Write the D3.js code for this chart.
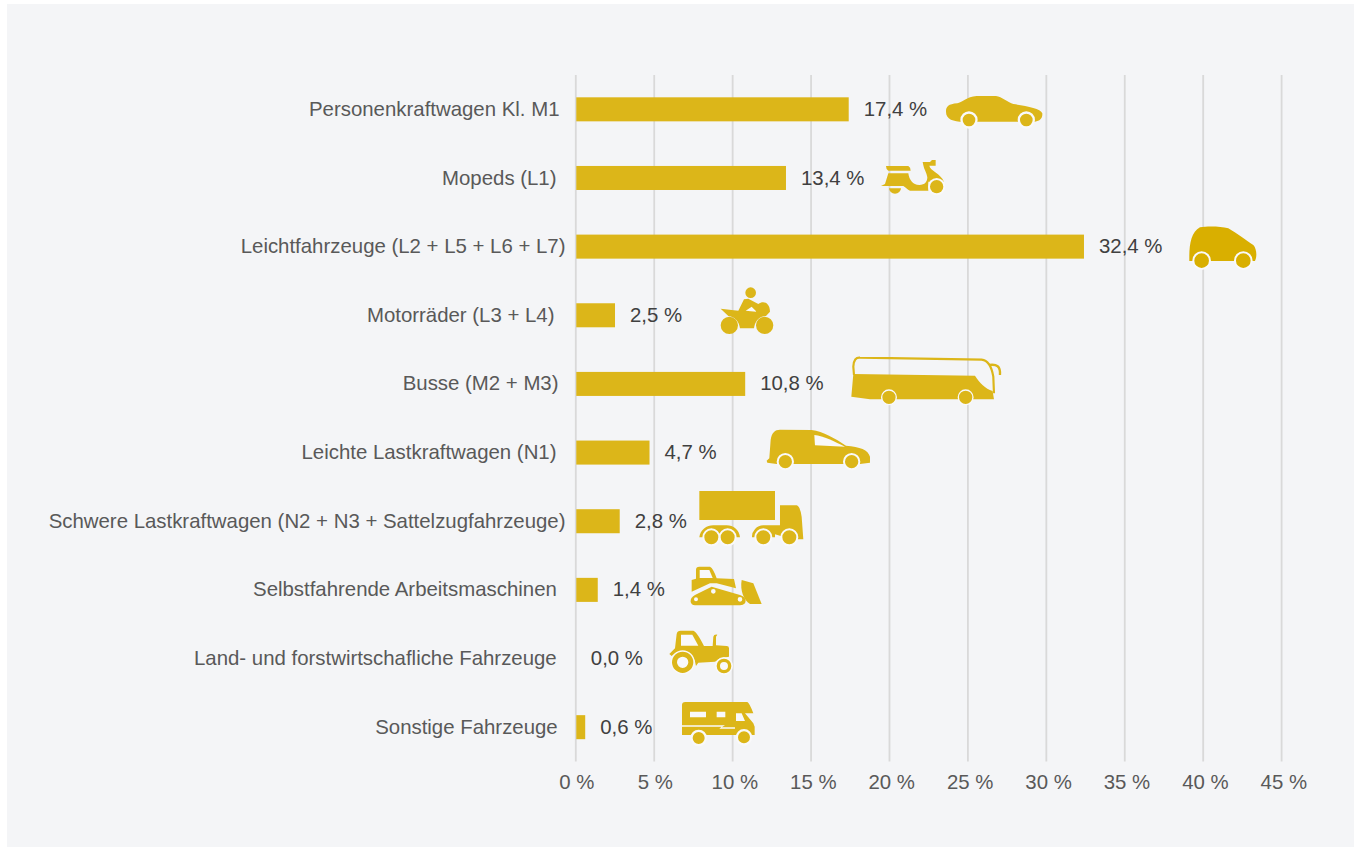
<!DOCTYPE html>
<html>
<head>
<meta charset="utf-8">
<script src="https://cdn.jsdelivr.net/npm/d3@7"></script>
<style>
  html, body { margin: 0; padding: 0; background: #fff; }
  svg { display: block; font-family: "Liberation Sans", Arial, sans-serif; }
</style>
</head>
<body>
<div id="chart"></div>
<script>
const categories = [
  "Personenkraftwagen Kl. M1",
  "Mopeds (L1)",
  "Leichtfahrzeuge (L2 + L5 + L6 + L7)",
  "Motorräder (L3 + L4)",
  "Busse (M2 + M3)",
  "Leichte Lastkraftwagen (N1)",
  "Schwere Lastkraftwagen (N2 + N3 + Sattelzugfahrzeuge)",
  "Selbstfahrende Arbeitsmaschinen",
  "Land- und forstwirtschafliche Fahrzeuge",
  "Sonstige Fahrzeuge"
];
const shares = [17.4, 13.4, 32.4, 2.5, 10.8, 4.7, 2.8, 1.4, 0.0, 0.6];
const xTicks = [0, 5, 10, 15, 20, 25, 30, 35, 40, 45];

const gold = "#dcb619", darkGold = "#d9af00", cut = "#f9f9fa", bg = "#f4f5f7";
const fontSize = 20.4;

// the labels in the original do not share one right edge
const labelInsets = [6, 9, 0, 11, 7, 9, 0, 8.7, 8.8, 7.8];

// set the dimensions of the graph
const margin = { top: 75, left: 575.8, right: 75.4, bottom: 85.5 },
    totalW = 1357, totalH = 847;

const svg = d3.select("#chart").append("svg")
    .attr("width", totalW).attr("height", totalH);

svg.append("rect").attr("x", 7).attr("y", 4)
    .attr("width", 1347).attr("height", 843).attr("fill", bg);

const x = d3.scaleLinear().domain([0, 45]).range([margin.left, totalW - margin.right]);
const y = d3.scaleBand().domain(categories)
    .range([margin.top, totalH - margin.bottom]).paddingInner(0.65).paddingOuter(0.325);

// gridlines and x axis
const grid = svg.append("g").attr("transform", "translate(0," + (totalH - margin.bottom) + ")")
    .call(d3.axisBottom(x).offset(0).tickValues(xTicks).tickSize(margin.top + margin.bottom - totalH).tickFormat(""));
grid.select(".domain").remove();
grid.selectAll("line").attr("stroke", "#d9d9d9").attr("stroke-width", 1.8);

const xAxis = svg.append("g").attr("transform", "translate(0," + (totalH - margin.bottom) + ")")
    .call(d3.axisBottom(x).offset(0).tickValues(xTicks).tickSize(0).tickPadding(13).tickFormat(d => d + " %"));
xAxis.select(".domain").remove();
xAxis.selectAll("text").attr("font-size", fontSize).attr("fill", "#595959")
    .attr("font-family", "'Liberation Sans', Arial, sans-serif")
    .attr("dx", d => d < 10 ? 1 : 2.2);

// y axis labels
const yAxis = svg.append("g").attr("transform", "translate(" + (margin.left - 10.3) + ",0)")
    .call(d3.axisLeft(y).offset(0).tickSize(0).tickPadding(0));
yAxis.select(".domain").remove();
yAxis.selectAll("text").attr("font-size", fontSize).attr("fill", "#595959")
    .attr("font-family", "'Liberation Sans', Arial, sans-serif")
    .attr("dx", (d, i) => -labelInsets[i]);

// bars
svg.selectAll("rect.bar").data(categories).enter().append("rect")
    .attr("class", "bar")
    .attr("x", x(0) + 0.5)
    .attr("y", d => y(d))
    .attr("width", (d, i) => shares[i] === 0 ? 0 : x(shares[i]) - x(0) - 0.5)
    .attr("height", y.bandwidth())
    .attr("fill", gold);

// value labels
svg.selectAll("text.val").data(categories).enter().append("text")
    .attr("class", "val")
    .attr("x", (d, i) => x(shares[i]) + 15)
    .attr("y", d => y(d) + y.bandwidth() / 2)
    .attr("dy", "0.32em")
    .attr("font-size", fontSize)
    .attr("fill", "#404040")
    .text((d, i) => shares[i].toFixed(1).replace(".", ",") + " %");

// vehicle icons, drawn at 3x and scaled down
const c = (cx, cy, r) => "M" + (cx - r) + "," + cy + "a" + r + "," + r + " 0 1 0 " + (2 * r) + ",0a" + r + "," + r + " 0 1 0 " + (-2 * r) + ",0Z";

const icons = [
  { ox: 870, oy: -29.33, layers: [
    [gold, "M228,95C228,80 235,72 262,70C275,68 290,50 320,48L378,48C395,50 415,68 430,72C470,78 512,85 517,100C518,115 510,122 495,125L280,125C250,125 228,118 228,95Z"],
    [cut, c(297, 120, 26) + c(469, 120, 26)],
    [gold, c(297, 120, 19) + c(469, 120, 19)]
  ]},
  { ox: 870, oy: -97.98, layers: [
    [gold, "M48,258L115,258Q122,262 122,272L55,272Q48,268 48,258Z"],
    [gold, "M33,318L45,312L55,280L115,280C118,300 128,315 148,315C165,315 172,305 172,292C170,278 162,268 160,256L158,246L180,246L186,240L197,240L197,257L178,257C180,272 212,280 222,305L175,305L175,332L120,332C112,330 108,322 100,318Z"],
    [gold, "M57,325A18,16 0 0 0 93,325Z"],
    [cut, c(200, 320, 26)],
    [gold, c(200, 320, 20)]
  ]},
  { ox: 870, oy: -166.63, layers: [
    [darkGold, "M958,530C958,490 965,455 990,442C1010,438 1050,438 1075,445C1100,460 1130,482 1150,495C1160,505 1162,530 1155,543L958,543Z"],
    [cut, c(995, 542, 28) + c(1120, 542, 28)],
    [darkGold, c(995, 542, 22) + c(1120, 542, 22)]
  ]},
  { ox: 680, oy: -35.28, layers: [
    [gold, c(212, 38, 16) + c(148, 136, 26) + c(254, 136, 26)],
    [gold, "M122,86L175,92L192,58L205,56L235,72C250,60 270,68 270,95L258,108C235,108 225,125 222,145L180,145C178,125 165,110 145,108Z"],
    [cut, "M197,92L215,80L230,95Z"]
  ]},
  { ox: 680, oy: -103.93, layers: [
    ["none", "M522,285L520,260C521,240 528,232 540,233L905,239C925,241 935,260 940,290L942,340", 6.5],
    ["none", "M928,255C950,252 962,258 960,285", 7],
    [gold, "M520,282L885,287C900,310 915,325 938,333L942,358L570,358L514,350Z"],
    [cut, c(627, 352, 24) + c(857, 352, 24)],
    [gold, c(627, 352, 20) + c(857, 352, 20)]
  ]},
  { ox: 680, oy: -172.58, layers: [
    [gold, "M260,542L268,535L272,480C275,458 285,449 300,449L395,450C430,455 465,475 498,497C540,500 565,510 570,530L570,548L540,552L290,552L262,548Z"],
    [cut, "M403,465C430,468 465,485 495,500L405,496Z"],
    [cut, c(316, 545, 26) + c(515, 545, 26)],
    [gold, c(316, 545, 20) + c(515, 545, 20)]
  ]},
  { ox: 660, oy: -41.23, layers: [
    [gold, "M118,33L345,33L345,120L118,120Z"],
    [gold, "M118,172C120,150 140,136 160,136L200,136C220,136 238,150 240,172Z"],
    [gold, "M276,172A34,34 0 0 1 310,136L360,136L360,76L410,76Q420,78 425,110L430,178L395,178L345,163L345,172Z"],
    [cut, c(154, 172, 27) + c(203, 172, 27) + c(310, 172, 27) + c(388, 172, 27)],
    [gold, c(154, 172, 21) + c(203, 172, 21) + c(310, 172, 21) + c(388, 172, 21)]
  ]},
  { ox: 660, oy: -109.88, layers: [
    [gold, "M108,270Q108,260 118,260L150,260Q160,265 170,295L222,297L228,325L170,310L150,310L95,335L95,300L108,296Z"],
    [cut, "M119,270L148,270L158,294L119,294Z"],
    [gold, "M105,345L155,320L240,345C255,350 260,360 255,370Q250,376 240,376L105,376C90,376 85,355 105,345Z"],
    [cut, c(108, 358, 6) + c(160, 334, 7) + c(240, 358, 7)],
    [gold, "M245,300L280,310L305,372L270,372C250,360 240,330 245,300Z"]
  ]},
  { ox: 660, oy: -38.53, layers: [
    [gold, "M50,42Q52,32 62,32L100,32Q110,34 132,78L158,78L160,50Q162,42 172,44L168,50L168,76L200,78Q207,78 207,85L207,110L180,115L165,125L115,128L108,138L104,120L88,100L50,97L35,108L28,102L45,85Z"],
    [cut, "M63,44L97,44L115,77L63,77Z"],
    [cut, c(68, 127, 36) + c(192, 138, 27)],
    [gold, c(68, 127, 32) + c(192, 138, 22)],
    [cut, c(68, 127, 17) + c(192, 138, 12)]
  ]},
  { ox: 660, oy: -107.18, layers: [
    [gold, "M66,255Q66,246 76,246L262,246Q268,248 280,280L255,280L280,310L284,320L284,345L66,345Z"],
    [cut, "M90,275L138,275L138,292L90,292ZM170,275L196,275L196,292L170,292ZM228,280L245,280L255,303L228,303Z"],
    [cut, "M66,316L195,316L185,322L225,322L225,326L178,326L185,320L66,320Z"],
    [cut, c(116, 354, 25) + c(252, 352, 25)],
    [gold, c(116, 354, 18) + c(252, 352, 18)]
  ]}
];

const iconG = svg.selectAll("g.icon").data(categories).enter().append("g")
    .attr("class", "icon")
    .attr("transform", (d, i) => "translate(" + icons[i].ox + "," + (y(d) + y.bandwidth() / 2 + icons[i].oy) + ") scale(0.3333)");

iconG.selectAll("path").data((d, i) => icons[i].layers).enter().append("path")
    .attr("d", l => l[1])
    .attr("fill", l => l[0])
    .attr("stroke", l => l[0] === "none" ? gold : "none")
    .attr("stroke-width", l => l[2] || 0);
</script>
</body>
</html>
